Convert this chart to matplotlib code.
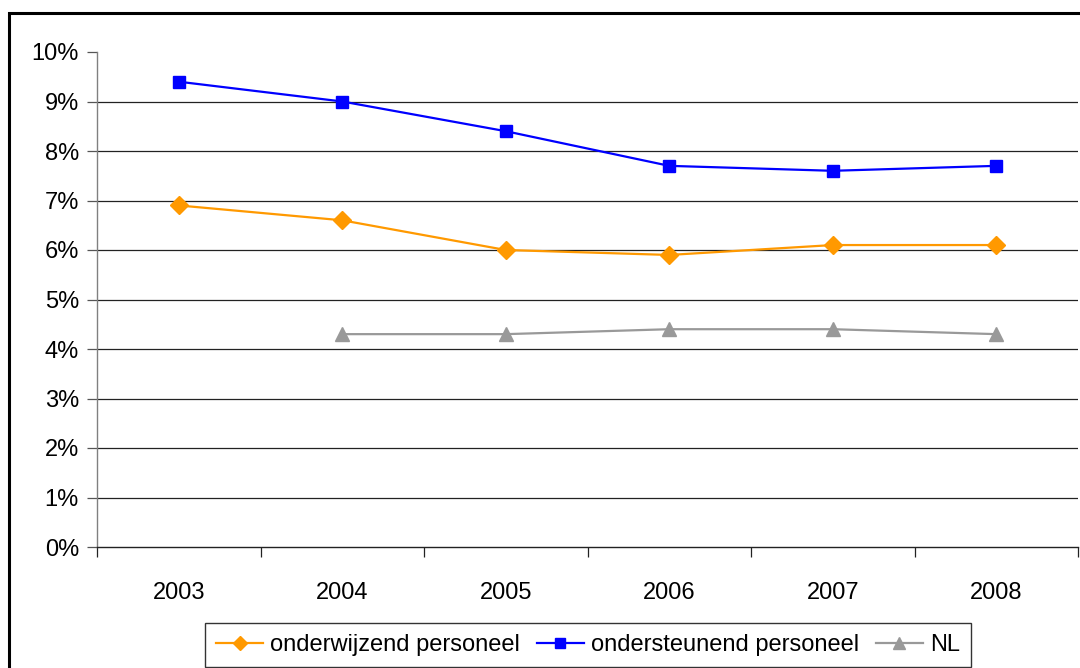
import matplotlib.pyplot as plt
from matplotlib.patches import Rectangle
from matplotlib.ticker import FuncFormatter, FixedLocator

plt.rcParams['font.family'] = ['Liberation Sans', 'DejaVu Sans']

# Ziekteverzuim per jaar (%)
jaren = ['2003', '2004', '2005', '2006', '2007', '2008']
onderwijzend = [6.9, 6.6, 6.0, 5.9, 6.1, 6.1]
ondersteunend = [9.4, 9.0, 8.4, 7.7, 7.6, 7.7]
nl_jaren = ['2004', '2005', '2006', '2007', '2008']
nl = [4.3, 4.3, 4.4, 4.4, 4.3]

fig = plt.figure(figsize=(10.8, 6.68), dpi=100)
ax = fig.add_axes([97 / 1080, 1 - 547 / 668, 981 / 1080, 495 / 668])

x = list(range(len(jaren)))
x_nl = [jaren.index(j) for j in nl_jaren]

ax.plot(x, onderwijzend, color='#FF9900', marker='D', markersize=9, lw=1.6,
        label='onderwijzend personeel')
ax.plot(x, ondersteunend, color='#0000FF', marker='s', markersize=8.5, lw=1.6,
        label='ondersteunend personeel')
ax.plot(x_nl, nl, color='#999999', marker='^', markersize=10, lw=1.6,
        label='NL')

ax.set_xlim(-0.5, len(jaren) - 0.5)
ax.set_ylim(0, 10)
ax.set_yticks(range(0, 11))
ax.yaxis.set_major_formatter(FuncFormatter(lambda v, p: f'{v:.0f}%'))

# horizontal gridlines, not at the top edge
for v in range(1, 10):
    ax.axhline(v, color='#222222', lw=0.9, zorder=0)

ax.set_xticks(x)
ax.set_xticklabels(jaren)
ax.xaxis.set_minor_locator(FixedLocator([i - 0.5 for i in range(len(jaren) + 1)]))
ax.tick_params(axis='x', which='major', length=0, pad=25, labelsize=17)
ax.tick_params(axis='x', which='minor', length=7, width=0.9, color='#222222')
ax.tick_params(axis='y', length=7, width=0.9, color='#555555', pad=6, labelsize=17)

for side in ['top', 'right']:
    ax.spines[side].set_visible(False)
ax.spines['left'].set_color('#808080')
ax.spines['bottom'].set_color('#222222')
ax.spines['left'].set_linewidth(1.0)
ax.spines['bottom'].set_linewidth(1.0)

leg = fig.legend(loc='center', bbox_to_anchor=(588 / 1080, 1 - 645 / 668), ncol=3,
                 fontsize=17, frameon=True, fancybox=False, handlelength=2.0,
                 markerscale=0.8, columnspacing=0.7, handletextpad=0.3,
                 borderpad=0.45, borderaxespad=0)
leg.get_frame().set_edgecolor('black')
leg.get_frame().set_linewidth(1.0)

# chart border
fig.patches.append(Rectangle((9 / 1080, -0.1), 1.1, 1.1 - 13 / 668,
                             transform=fig.transFigure, fill=False,
                             edgecolor='black', lw=2.2))

fig.savefig('out.png', dpi=100)
